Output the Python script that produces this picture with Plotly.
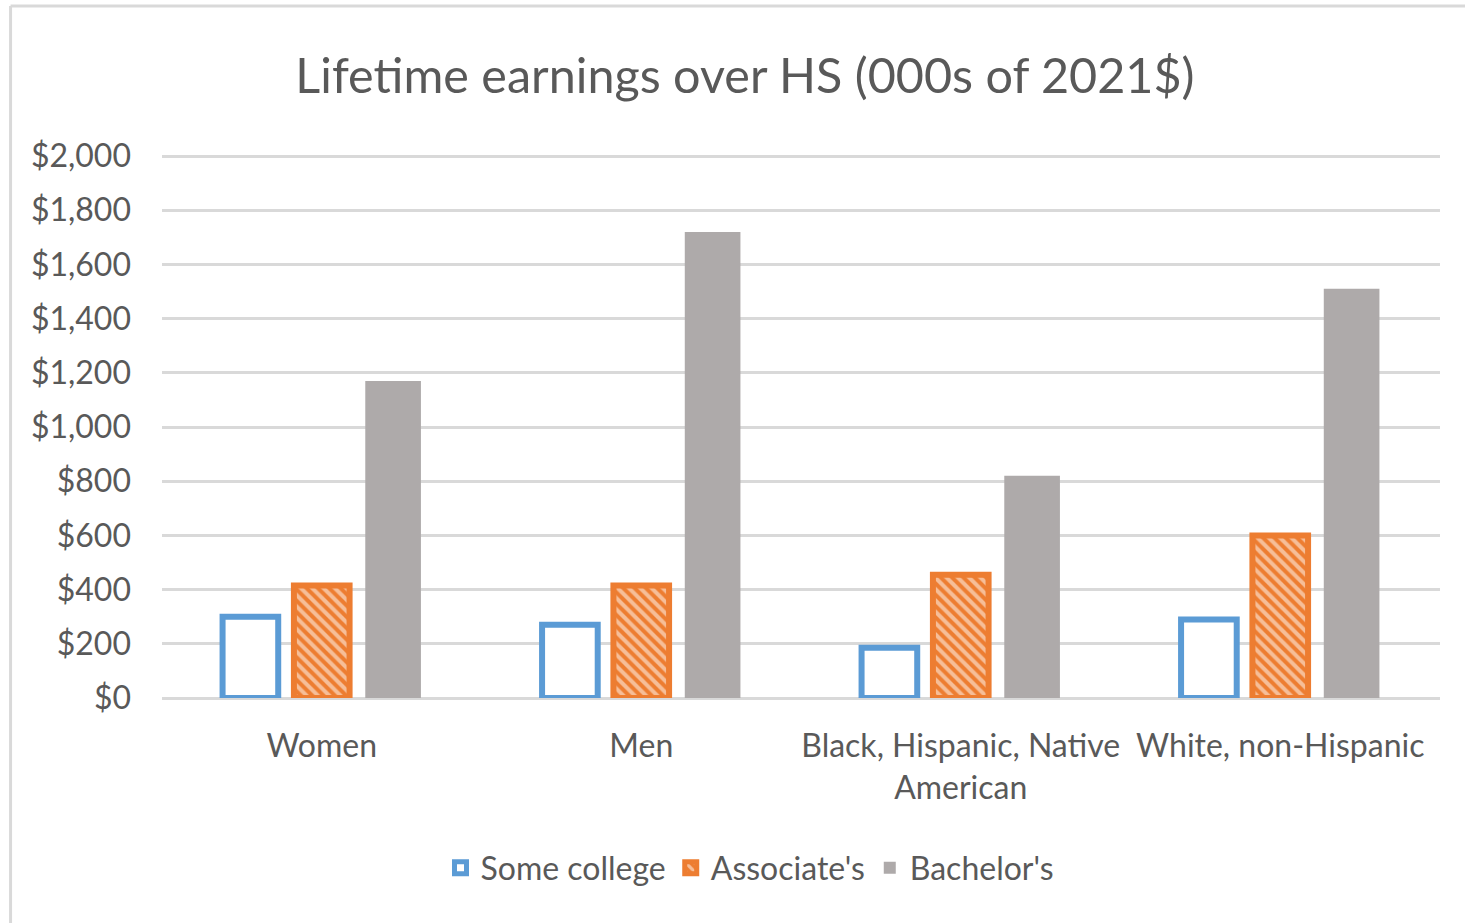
import plotly.graph_objects as go

# Lifetime earnings premium over a high-school diploma, thousands of 2021 dollars
groups = ["Women", "Men", "Black, Hispanic, Native American", "White, non-Hispanic"]
group_labels = ["Women", "Men", "Black, Hispanic, Native<br>American", "White, non-Hispanic"]

some_college = [300, 270, 185, 290]
associates = [415, 415, 455, 600]
bachelors = [1170, 1720, 820, 1510]

y_ticks = list(range(0, 2001, 200))

FONT = "Lato"
TEXT = "#595959"
GRID = "#D9D9D9"
BLUE = "#5B9BD5"
ORANGE = "#ED7D31"
GREY = "#AEAAAA"

fig = go.Figure()
fig.add_trace(go.Bar(
    name="Some college", x=groups, y=some_college,
    marker=dict(color="white", line=dict(color=BLUE, width=6)),
))
fig.add_trace(go.Bar(
    name="Associate's", x=groups, y=associates,
    marker=dict(
        color=ORANGE,
        line=dict(color=ORANGE, width=6),
        pattern=dict(shape="\\", fgcolor="white", bgcolor=ORANGE, size=8, solidity=0.5),
    ),
))
fig.add_trace(go.Bar(
    name="Bachelor's", x=groups, y=bachelors,
    marker=dict(color=GREY, line=dict(width=0)),
))

# light frame around the chart area (top and left edges visible)
fig.add_shape(type="line", xref="paper", yref="paper",
              x0=-0.1185, x1=1.03, y0=1.2745, y1=1.2745,
              line=dict(color=GRID, width=3))
fig.add_shape(type="line", xref="paper", yref="paper",
              x0=-0.1185, x1=-0.1185, y0=1.2745, y1=-0.45,
              line=dict(color=GRID, width=3))

fig.update_layout(
    width=1465, height=923,
    margin=dict(l=162, r=25, t=155, b=225),
    paper_bgcolor="white", plot_bgcolor="white",
    barmode="group", bargap=0.33, bargroupgap=0.22,
    font=dict(family=FONT, color=TEXT, size=32),
    title=dict(
        text="Lifetime earnings over HS (000s of 2021$)",
        font=dict(family=FONT, size=48.5, color=TEXT),
        x=0.5085, xref="container", xanchor="center",
        y=1 - 76 / 923, yref="container", yanchor="middle",
    ),
    legend=dict(
        orientation="h",
        x=750 / 1465, xref="container", xanchor="center",
        y=1 - 868 / 923, yref="container", yanchor="middle",
        font=dict(family=FONT, size=32, color=TEXT),
        itemwidth=30,
    ),
    xaxis=dict(
        tickmode="array", tickvals=groups, ticktext=group_labels,
        showgrid=False, showline=False, ticks="",
        ticklabelstandoff=26,
        tickfont=dict(family=FONT, size=32, color=TEXT),
    ),
    yaxis=dict(
        range=[0, 2004], tickvals=y_ticks,
        tickformat="$,d",
        showgrid=True, gridcolor=GRID, gridwidth=3,
        zeroline=True, zerolinecolor=GRID, zerolinewidth=3,
        showline=False, ticks="",
        ticklabelstandoff=30,
        tickfont=dict(family=FONT, size=32, color=TEXT),
    ),
)

fig.write_html("out.html")
